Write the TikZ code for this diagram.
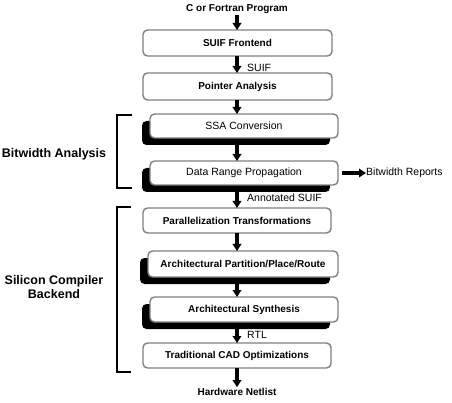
\documentclass[tikz,border=0pt]{standalone}
\usepackage{fontspec}
\setmainfont{Liberation Sans}
\usetikzlibrary{arrows.meta,shadows}
\begin{document}
\begin{tikzpicture}[x=1pt,y=-1pt,
  stage/.style={draw=black!50, line width=1.4pt, fill=white, rounded corners=4.5pt,
    inner sep=0pt, font=\fontsize{10}{12}\selectfont\bfseries},
  stagereg/.style={stage, font=\fontsize{10.5}{12}\selectfont},
  shade/.style={drop shadow={shadow xshift=-8pt, shadow yshift=-7pt, fill=black, opacity=1}},
  flow/.style={line width=3.2pt, -{Triangle[length=7pt,width=8.5pt]}},
  lbl/.style={font=\fontsize{10.5}{12}\selectfont, inner sep=0pt},
  ext/.style={font=\fontsize{10}{12}\selectfont\bfseries, inner sep=1pt},
  side/.style={font=\fontsize{12.5}{14}\selectfont\bfseries, align=center, inner sep=0pt},
  brack/.style={line width=2.4pt}]
\useasboundingbox (0,0) rectangle (452,403);

\node[ext] (cprog) at (237,9) {C or Fortran Program};
\node[stage, minimum width=189pt, minimum height=26pt] (f1) at (237.5,43) {SUIF Frontend};
\node[stage, minimum width=189pt, minimum height=27pt] (f2) at (237.5,86.5) {Pointer Analysis};
\node[stagereg, shade, minimum width=188pt, minimum height=24pt] (f3) at (244,126) {SSA Conversion};
\node[stagereg, shade, minimum width=188pt, minimum height=24pt] (f4) at (244,173) {Data Range Propagation};
\node[stage, minimum width=188pt, minimum height=25pt] (f5) at (237,220.5) {Parallelization Transformations};
\node[stage, shade, minimum width=190pt, minimum height=26pt] (f6) at (243,264) {Architectural Partition/Place/Route};
\node[stage, shade, minimum width=188pt, minimum height=25pt] (f7) at (244,309.5) {Architectural Synthesis};
\node[stage, minimum width=188pt, minimum height=25pt] (f8) at (237,355.5) {Traditional CAD Optimizations};
\node[ext] (hw) at (237,392) {Hardware Netlist};

\node[lbl, anchor=west] (suif) at (247,68) {SUIF};
\node[lbl, anchor=west] (ann) at (247,198) {Annotated SUIF};
\node[lbl, anchor=west] (rtl) at (247,335) {RTL};
\node[lbl, anchor=west] (rep) at (366,173) {Bitwidth Reports};

\draw[flow] (cprog.south -| 237,0) -- (237,30);
\draw[flow] (237,56) -- (237,73);
\draw[flow] (237,100) -- (237,114);
\draw[flow] (237,145) -- (237,161);
\draw[flow] (237,192) -- (237,208);
\draw[flow] (237,233) -- (237,251);
\draw[flow] (237,280) -- (237,297);
\draw[flow] (237,327) -- (237,343);
\draw[flow] (237,368) -- (hw.north -| 237,0);
\draw[flow] (f4.east) ++(3pt,0) -- (rep.west);

\draw[brack] (132,115) -- (117,115) -- (117,188) -- (132,188);
\draw[brack] (131,207) -- (117,207) -- (117,372) -- (131,372);

\node[side] (bw) at (54,154) {Bitwidth Analysis};
\node[side] (sc) at (54,287) {Silicon Compiler\\Backend};
\end{tikzpicture}
\end{document}
